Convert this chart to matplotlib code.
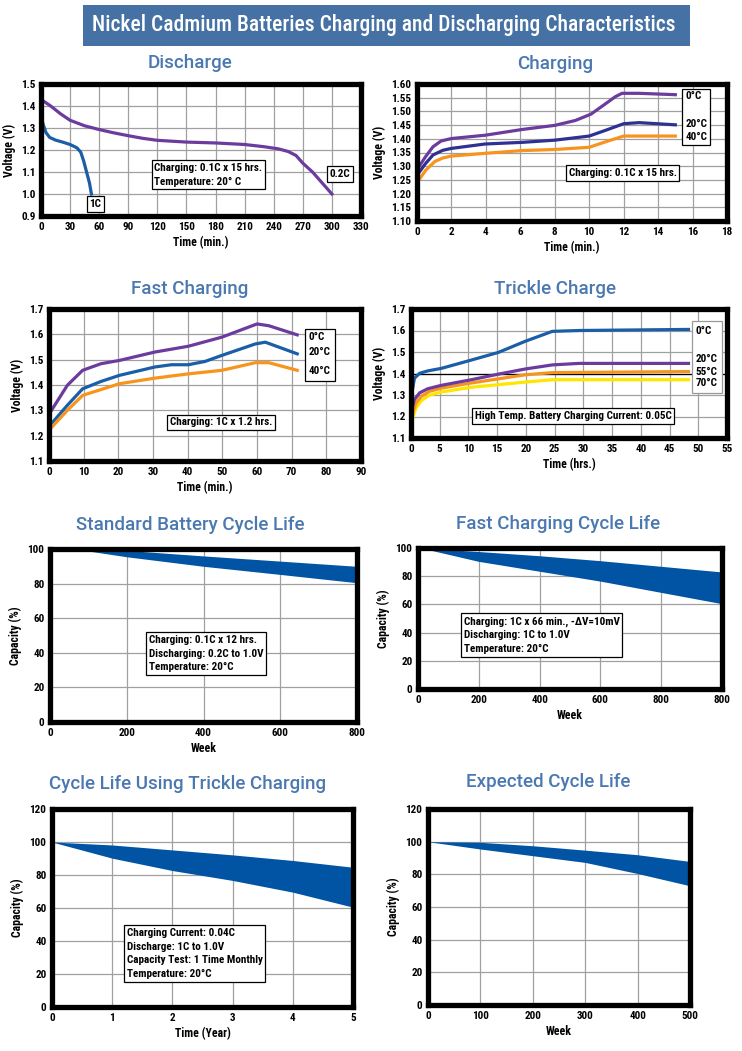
import matplotlib
matplotlib.use("Agg")
import matplotlib.pyplot as plt
from matplotlib.patches import Rectangle
from matplotlib import font_manager

W, H = 742, 1051

# pick a narrow sans face if there is one
names = {f.name for f in font_manager.fontManager.ttflist}
narrow = None
for cand in ['Liberation Sans Narrow', 'Roboto Condensed', 'Open Sans Condensed', 'DejaVu Sans Condensed']:
    if cand in names:
        narrow = cand
        break
stretch = 'normal'
if narrow is None:
    cond = [f for f in font_manager.fontManager.ttflist
            if f.name == 'DejaVu Sans' and str(f.stretch) in ('condensed', '500', 'semi-condensed')]
    if cond:
        narrow = 'DejaVu Sans'
        stretch = 'condensed'
    else:
        narrow = 'Liberation Sans'
plt.rcParams['font.family'] = [narrow, 'DejaVu Sans']
plt.rcParams['font.stretch'] = stretch

BLUE = '#1b5ea8'
PURPLE = '#6b3c9e'
INDIGO = '#2e3192'
ORANGE = '#f7941d'
YELLOW = '#ffe600'
FILL = '#0054a3'
TITLE_C = '#4a78b0'

# Discharge
dis_1c_x = [0, 2, 5, 9, 15, 23, 30, 37, 41, 44, 47, 50, 52]
dis_1c_y = [1.36, 1.32, 1.28, 1.257, 1.245, 1.235, 1.225, 1.21, 1.19, 1.15, 1.10, 1.05, 1.00]
dis_02c_x = [0, 10, 20, 30, 45, 60, 75, 90, 105, 120, 150, 180, 210, 230, 245, 255, 263, 270, 280, 290, 300]
dis_02c_y = [1.43, 1.40, 1.365, 1.335, 1.31, 1.293, 1.278, 1.265, 1.253, 1.244, 1.236, 1.232, 1.225,
             1.215, 1.205, 1.193, 1.175, 1.14, 1.10, 1.05, 1.00]

# Charging (0.1C)
chg_x0 = [0.06, 0.5, 0.93, 1.4, 2.0, 3.95, 6.1, 8.0, 9.2, 10.1, 10.95, 11.5, 11.9, 12.9, 15.0]
chg_y0 = [1.293, 1.335, 1.371, 1.392, 1.401, 1.413, 1.434, 1.449, 1.467, 1.49, 1.528, 1.553, 1.566, 1.566, 1.561]
chg_x20 = [0.06, 0.5, 0.93, 1.5, 2.0, 3.95, 6.1, 8.0, 10.0, 10.95, 12.0, 12.9, 15.0]
chg_y20 = [1.272, 1.31, 1.341, 1.358, 1.365, 1.381, 1.387, 1.395, 1.41, 1.431, 1.455, 1.459, 1.451]
chg_x40 = [0.06, 0.5, 1.03, 1.5, 2.0, 3.95, 6.1, 8.0, 10.0, 10.95, 12.0, 15.0]
chg_y40 = [1.245, 1.285, 1.317, 1.33, 1.337, 1.347, 1.357, 1.361, 1.369, 1.389, 1.41, 1.41]

# Fast charging (1C)
fc_x0 = [0.3, 5.3, 9.7, 15, 20.3, 30.5, 40.2, 49.9, 60, 63.4, 71.6]
fc_y0 = [1.291, 1.399, 1.458, 1.484, 1.497, 1.53, 1.553, 1.589, 1.641, 1.634, 1.598]
fc_x20 = [0.3, 5.3, 9.7, 15, 20.3, 30.5, 35.3, 40.2, 45, 49.9, 59.5, 62.4, 71.6]
fc_y20 = [1.241, 1.32, 1.385, 1.414, 1.438, 1.471, 1.48, 1.48, 1.493, 1.517, 1.562, 1.569, 1.523]
fc_x40 = [0.3, 5.3, 9.7, 15, 20.3, 30.5, 40.2, 49.9, 59.5, 63.4, 71.6]
fc_y40 = [1.226, 1.30, 1.359, 1.382, 1.405, 1.427, 1.444, 1.458, 1.488, 1.488, 1.458]

# Trickle charge
tr_x0 = [0.3, 0.6, 1.5, 2.9, 5.3, 9.9, 15.2, 19.9, 24.6, 29.3, 48.3]
tr_y0 = [1.332, 1.378, 1.401, 1.412, 1.424, 1.458, 1.498, 1.55, 1.596, 1.600, 1.605]
tr_x20 = [0.3, 0.6, 1.5, 2.9, 5.3, 10.5, 15.2, 19.9, 24.6, 29.3, 48.3]
tr_y20 = [1.248, 1.279, 1.31, 1.329, 1.345, 1.371, 1.397, 1.421, 1.44, 1.447, 1.447]
tr_x55 = [0.3, 0.9, 1.8, 3.2, 5.3, 10.5, 15.2, 19.9, 24.6, 48.3]
tr_y55 = [1.218, 1.264, 1.294, 1.317, 1.332, 1.356, 1.375, 1.394, 1.404, 1.409]
tr_x70 = [0.3, 0.9, 1.8, 3.2, 5.3, 10.5, 15.2, 19.9, 24.6, 48.3]
tr_y70 = [1.195, 1.241, 1.274, 1.299, 1.314, 1.336, 1.348, 1.36, 1.371, 1.371]

# Standard battery cycle life
std_week = [65, 200, 400, 600, 800]
std_hi = [100, 99.2, 96.0, 93.0, 90.0]
std_lo = [100, 95.5, 90.0, 85.3, 80.5]

# Fast charging cycle life (axis labelled 0..800, last label repeated)
fcl_week = [10, 200, 400, 600, 800, 1000]
fcl_hi = [100, 97.5, 94.5, 91.0, 87.0, 83.0]
fcl_lo = [100, 90.5, 83.5, 76.5, 68.5, 60.5]
fcl_ticklabels = ['0', '200', '400', '600', '800', '800']

# Cycle life using trickle charging
tcl_year = [0, 1, 2, 3, 4, 5]
tcl_hi = [100, 98.2, 95.2, 92.2, 88.8, 84.7]
tcl_lo = [100, 90.2, 82.7, 76.7, 69.6, 60.5]

# Expected cycle life
exp_week = [0, 100, 200, 300, 400, 500]
exp_hi = [100, 99.6, 97.5, 94.8, 92.0, 87.9]
exp_lo = [100, 95.5, 91.4, 87.3, 80.5, 73.0]

fig = plt.figure(figsize=(W / 100, H / 100), dpi=100)


def px_axes(l, t, r, b):
    return fig.add_axes([l / W, 1 - b / H, (r - l) / W, (b - t) / H])


def style(ax, xlim, xstep, ylim, ystep, yfmt, xlabel, ylabel):
    ax.set_xlim(*xlim)
    ax.set_ylim(*ylim)
    n = int(round((xlim[1] - xlim[0]) / xstep))
    ax.set_xticks([xlim[0] + i * xstep for i in range(n + 1)])
    m = int(round((ylim[1] - ylim[0]) / ystep))
    yt = [ylim[0] + i * ystep for i in range(m + 1)]
    ax.set_yticks(yt)
    ax.set_yticklabels([yfmt % v for v in yt])
    ax.grid(True, color='#a0a0a0', linewidth=0.9)
    ax.set_axisbelow(True)
    for s in ax.spines.values():
        s.set_linewidth(3.8)
        s.set_color('black')
    ax.tick_params(length=0, pad=4, labelsize=8)
    for lab in ax.get_xticklabels() + ax.get_yticklabels():
        lab.set_fontweight('bold')
    ax.set_xlabel(xlabel, fontsize=8.5, fontweight='bold', labelpad=3)
    ax.set_ylabel(ylabel, fontsize=8.5, fontweight='bold', labelpad=4)


def note(ax, x, y, s, ha='left', ls=1.45):
    ax.text(x, y, s, fontsize=8, fontweight='bold', ha=ha, va='center', linespacing=ls,
            bbox=dict(boxstyle='square,pad=0.25', fc='white', ec='black', lw=0.9), zorder=6)


def label_box(ax, x0, y0, x1, y1, labels, ec='black'):
    ax.add_patch(Rectangle((x0, y0), x1 - x0, y1 - y0, fc='white', ec=ec, lw=0.9,
                           clip_on=False, zorder=6))
    for yy, s in labels:
        ax.text(x0 + (x1 - x0) * 0.12, yy, s, fontsize=8, fontweight='bold',
                va='center', zorder=7, clip_on=False)


def title(x, y, s):
    fig.text(x / W, 1 - y / H, s, ha='center', va='center', fontsize=13.5,
             color=TITLE_C, family=['Roboto', 'DejaVu Sans'], fontweight='medium',
             fontstretch='normal')


# banner
fig.patches.append(Rectangle((83 / W, 1 - 46 / H), (690 - 83) / W, 41 / H,
                             transform=fig.transFigure, fc='#4571a5', ec='none'))
fig.text(384 / W, 1 - 25 / H, 'Nickel Cadmium Batteries Charging and Discharging Characteristics',
         ha='center', va='center', color='white', fontsize=15.5, fontweight='medium')

lw = 2.3

# Discharge
ax = px_axes(41, 84, 361, 216)
style(ax, (0, 330), 30, (0.9, 1.5), 0.1, '%.1f', 'Time (min.)', 'Voltage (V)')
ax.plot(dis_1c_x, dis_1c_y, color=BLUE, lw=lw)
ax.plot(dis_02c_x, dis_02c_y, color=PURPLE, lw=lw)
note(ax, 117, 1.087, 'Charging: 0.1C x 15 hrs.\nTemperature: 20° C')
note(ax, 50, 0.955, '1C')
note(ax, 298, 1.09, '0.2C')
title(190, 63, 'Discharge')

# Charging
ax = px_axes(417, 84, 727, 221)
style(ax, (0, 18), 2, (1.10, 1.60), 0.05, '%.2f', 'Time (min.)', 'Voltage (V)')
ax.plot(chg_x0, chg_y0, color=PURPLE, lw=lw)
ax.plot(chg_x20, chg_y20, color=INDIGO, lw=lw)
ax.plot(chg_x40, chg_y40, color=ORANGE, lw=lw)
label_box(ax, 15.4, 1.378, 17.0, 1.582, [(1.557, '0°C'), (1.455, '20°C'), (1.405, '40°C')])
note(ax, 8.8, 1.275, 'Charging: 0.1C x 15 hrs.')
title(555, 64, 'Charging')

# Fast charging
ax = px_axes(49, 309, 361, 461)
style(ax, (0, 90), 10, (1.1, 1.7), 0.1, '%.1f', 'Time (min.)', 'Voltage (V)')
ax.plot(fc_x0, fc_y0, color=PURPLE, lw=lw)
ax.plot(fc_x20, fc_y20, color=BLUE, lw=lw)
ax.plot(fc_x40, fc_y40, color=ORANGE, lw=lw)
label_box(ax, 73.8, 1.414, 82.6, 1.621, [(1.588, '0°C'), (1.53, '20°C'), (1.455, '40°C')])
note(ax, 34.8, 1.252, 'Charging: 1C x 1.2 hrs.')
title(190, 289, 'Fast Charging')

# Trickle charge
ax = px_axes(411, 309, 727, 438)
style(ax, (0, 55), 5, (1.1, 1.7), 0.1, '%.1f', 'Time (hrs.)', 'Voltage (V)')
ax.axhline(1.4, color='black', lw=0.9, zorder=2)
ax.plot(tr_x70, tr_y70, color=YELLOW, lw=lw)
ax.plot(tr_x55, tr_y55, color=ORANGE, lw=lw)
ax.plot(tr_x20, tr_y20, color=PURPLE, lw=lw)
ax.plot(tr_x0, tr_y0, color=BLUE, lw=lw)
label_box(ax, 48.9, 1.309, 54.1, 1.642,
          [(1.598, '0°C'), (1.468, '20°C'), (1.405, '55°C'), (1.355, '70°C')], ec='#999999')
note(ax, 11.1, 1.202, 'High Temp. Battery Charging Current: 0.05C')
title(555, 289, 'Trickle Charge')

# Standard battery cycle life
ax = px_axes(50, 549, 357, 722)
style(ax, (0, 800), 200, (0, 100), 20, '%d', 'Week', 'Capacity (%)')
ax.fill_between(std_week, std_lo, std_hi, color=FILL, lw=0)
note(ax, 258, 39.5, 'Charging: 0.1C x 12 hrs.\nDischarging: 0.2C to 1.0V\nTemperature: 20°C')
title(190, 525, 'Standard Battery Cycle Life')

# Fast charging cycle life
ax = px_axes(418, 548, 722, 689)
style(ax, (0, 1000), 200, (0, 100), 20, '%d', 'Week', 'Capacity (%)')
ax.set_xticklabels(fcl_ticklabels)
ax.fill_between(fcl_week, fcl_lo, fcl_hi, color=FILL, lw=0)
note(ax, 150, 38.2, 'Charging: 1C x 66 min., -ΔV=10mV\nDischarging: 1C to 1.0V\nTemperature: 20°C')
title(558, 524, 'Fast Charging Cycle Life')

# Cycle life using trickle charging
ax = px_axes(52, 809, 353, 1007)
style(ax, (0, 5), 1, (0, 120), 20, '%d', 'Time (Year)', 'Capacity (%)')
ax.fill_between(tcl_year, tcl_lo, tcl_hi, color=FILL, lw=0)
note(ax, 1.24, 32.3, 'Charging Current: 0.04C\nDischarge: 1C to 1.0V\nCapacity Test: 1 Time Monthly\nTemperature: 20°C')
title(188, 784, 'Cycle Life Using Trickle Charging')

# Expected cycle life
ax = px_axes(428, 809, 690, 1005)
style(ax, (0, 500), 100, (0, 120), 20, '%d', 'Week', 'Capacity (%)')
ax.fill_between(exp_week, exp_lo, exp_hi, color=FILL, lw=0)
title(548, 782, 'Expected Cycle Life')

fig.savefig('out.png', dpi=100)
